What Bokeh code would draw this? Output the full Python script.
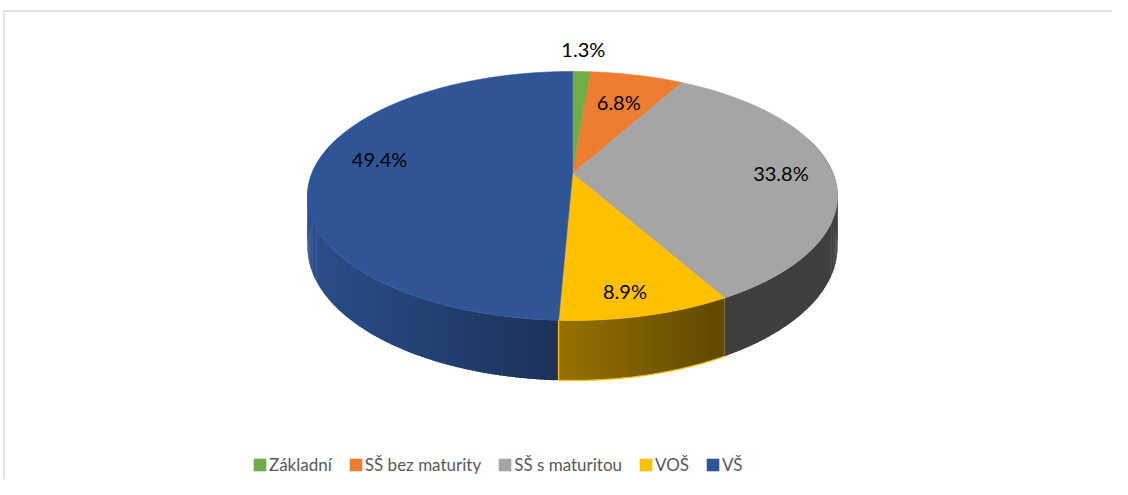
import numpy as np
from bokeh.plotting import figure
from bokeh.models import Range1d, Legend, LegendItem, ColumnDataSource
from bokeh.core.properties import value
from bokeh.embed import file_html
from bokeh.resources import INLINE

# ---- data ----
categories = ["Základní", "SŠ bez maturity", "SŠ s maturitou", "VOŠ", "VŠ"]
shares = [1.3, 6.8, 33.8, 8.9, 49.4]
colors = ["#70AD47", "#ED7D31", "#A5A5A5", "#FFC000", "#2F5597"]
edge_colors = [None, None, None, "#FFC000", None]
# small label nudges (pixels), like Excel's "best fit" placement
label_nudge = [(0, -2), (-4, 5), (13, 0), (0, 16), (2, -13)]

# ---- 3D perspective pie geometry (page-pixel data space) ----
CX, CY = 572.0, 173.0      # apex of the pie on screen
D = 5.535                  # perspective distance
A = 1442.8                 # horizontal scale
B = 666.6                  # vertical scale
H = 272.0                  # thickness scale


def proj(X, Z, drop=0.0):
    s = 1.0 / (D + Z)
    return CX + A * X * s, CY - B * Z * s + H * drop * s


def shade(hex_color, f):
    r, g, b = (int(hex_color[i:i + 2], 16) for i in (1, 3, 5))
    return "#%02x%02x%02x" % (int(r * f), int(g * f), int(b * f))


total = float(sum(shares))
cum = np.concatenate([[0.0], np.cumsum(shares)]) / total * 2 * np.pi

p = figure(width=1112, height=479, output_backend="svg", toolbar_location=None,
           x_range=Range1d(0, 1112), y_range=Range1d(479, 0),
           min_border=0, outline_line_color=None)
p.axis.visible = False
p.grid.visible = False
p.background_fill_color = "white"
p.border_fill_color = "white"

# chart-area border (left and top visible in the reference)
p.line(x=[3.5, 3.5, 1130], y=[500, 10.5, 10.5], line_color="#D9D9D9", line_width=1.5)

# ---- side walls (painter's order, far to near) ----
strips = []
for i in range(len(shares)):
    a0, a1 = cum[i], cum[i + 1]
    n = max(2, int(np.degrees(a1 - a0) / 0.75) + 1)
    t = np.linspace(a0, a1, n)
    step = t[1] - t[0]
    for k in range(n - 1):
        t0, t1 = t[k], t[k + 1]
        tm = 0.5 * (t0 + t1)
        if np.cos(tm) > 0.3:
            continue
        if k < n - 2:
            t1 = t1 + 0.6 * step
        x0, y0 = proj(np.sin(t0), np.cos(t0))
        x1, y1 = proj(np.sin(t1), np.cos(t1))
        x2, y2 = proj(np.sin(t1), np.cos(t1), 1.0)
        x3, y3 = proj(np.sin(t0), np.cos(t0), 1.0)
        xm = 0.5 * (x0 + x1)
        f = min(0.93, max(0.385, 0.92 - 0.00132 * (xm - 310)))
        c = shade(colors[i], f)
        strips.append((np.cos(tm), [x0, x1, x2, x3], [y0, y1, y2, y3], c))
strips.sort(key=lambda s: -s[0])
side_src = ColumnDataSource(dict(xs=[s[1] for s in strips], ys=[s[2] for s in strips],
                                 c=[s[3] for s in strips]))
p.patches("xs", "ys", source=side_src, fill_color="c", line_color=None)

# side outlines
for i in range(len(shares)):
    if edge_colors[i] is None:
        continue
    t = np.linspace(cum[i], cum[i + 1], 80)
    tx, ty = proj(np.sin(t), np.cos(t))
    bx, by = proj(np.sin(t), np.cos(t), 1.0)
    p.line(x=list(bx[::-1]), y=list(by[::-1]), line_color=edge_colors[i], line_width=1.3)
    p.line(x=[tx[-1], bx[-1]], y=[ty[-1], by[-1]], line_color=edge_colors[i], line_width=1.3)

# ---- top faces ----
txs, tys = [], []
for i in range(len(shares)):
    n = max(3, int(np.degrees(cum[i + 1] - cum[i]) / 0.5) + 2)
    t = np.linspace(cum[i], cum[i + 1], n)
    x, y = proj(np.sin(t), np.cos(t))
    txs.append([CX] + list(x))
    tys.append([CY] + list(y))
top_src = ColumnDataSource(dict(xs=txs, ys=tys, c=colors, name=categories))
top = p.patches("xs", "ys", source=top_src, fill_color="c", line_color="c", line_width=0.6)

# ---- data labels ----
lx, ly, lt = [], [], []
for i, v in enumerate(shares):
    mid = 0.5 * (cum[i] + cum[i + 1])
    r = 1.25 if v < 3 else 0.75
    x, y = proj(r * np.sin(mid), r * np.cos(mid))
    lx.append(x + label_nudge[i][0])
    ly.append(y + label_nudge[i][1])
    lt.append(f"{v:.1f}%")
p.text(x=lx, y=ly, text=lt, text_font=value("Lato"), text_font_size="20px",
       text_color="#000000", text_align="center", text_baseline="middle")

# ---- legend ----
items = [LegendItem(label=c, renderers=[top], index=i) for i, c in enumerate(categories)]
legend = Legend(items=items, orientation="horizontal", location=(252, 4),
                glyph_width=15, glyph_height=15, label_standoff=2, spacing=16,
                padding=0, margin=0, border_line_color=None, background_fill_alpha=0,
                label_text_font="Lato", label_text_font_size="17px",
                label_text_color="#595959", label_height=20)
p.add_layout(legend, "center")

open("out.html", "w").write(file_html(p, INLINE))
